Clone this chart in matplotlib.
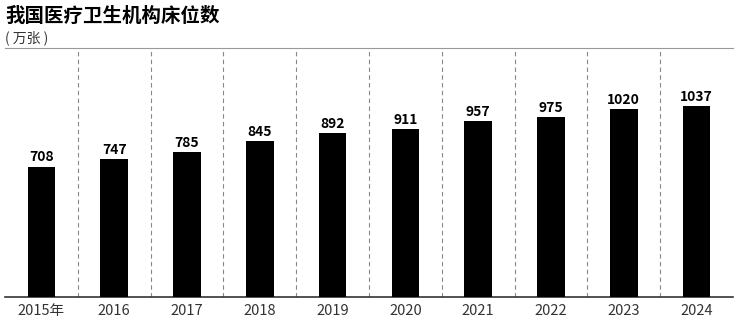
import matplotlib
matplotlib.use("Agg")
import matplotlib.pyplot as plt

plt.rcParams['font.family'] = ['Noto Sans CJK SC', 'DejaVu Sans']

years = ["2015年", "2016", "2017", "2018", "2019", "2020", "2021", "2022", "2023", "2024"]
beds = [708, 747, 785, 845, 892, 911, 957, 975, 1020, 1037]

fig = plt.figure(figsize=(7.4, 3.22), dpi=100)
ax = fig.add_axes([5 / 740, 1 - 297 / 322, 728 / 740, 249 / 322])

x = range(len(years))
ax.bar(x, beds, width=0.38, color="black", zorder=3)
for i, v in enumerate(beds):
    ax.text(i, v + 12, str(v), ha="center", va="bottom", fontsize=10,
            fontweight="bold", color="black")

# dashed separators between categories
for i in range(len(years) - 1):
    ax.axvline(i + 0.5, color="#888888", linestyle=(0, (4, 3)), linewidth=0.8, zorder=1)

ax.set_xlim(-0.5, len(years) - 0.5)
ax.set_ylim(0, 1352)
ax.set_xticks(list(x))
ax.set_xticklabels(years, fontsize=10.5, color="#333333")
ax.tick_params(axis="x", length=0, pad=5)
ax.set_yticks([])
for side in ["left", "right"]:
    ax.spines[side].set_visible(False)
ax.spines["bottom"].set_color("#333333")
ax.spines["bottom"].set_linewidth(1.2)
ax.spines["top"].set_color("#999999")
ax.spines["top"].set_linewidth(0.8)

fig.text(5 / 740, 1 - 16 / 322, "我国医疗卫生机构床位数", fontsize=14,
         fontweight="bold", va="center", ha="left")
fig.text(5 / 740, 1 - 38 / 322, "( 万张 )", fontsize=10, va="center", ha="left",
         color="#333333")

fig.savefig("out.png", dpi=100)
